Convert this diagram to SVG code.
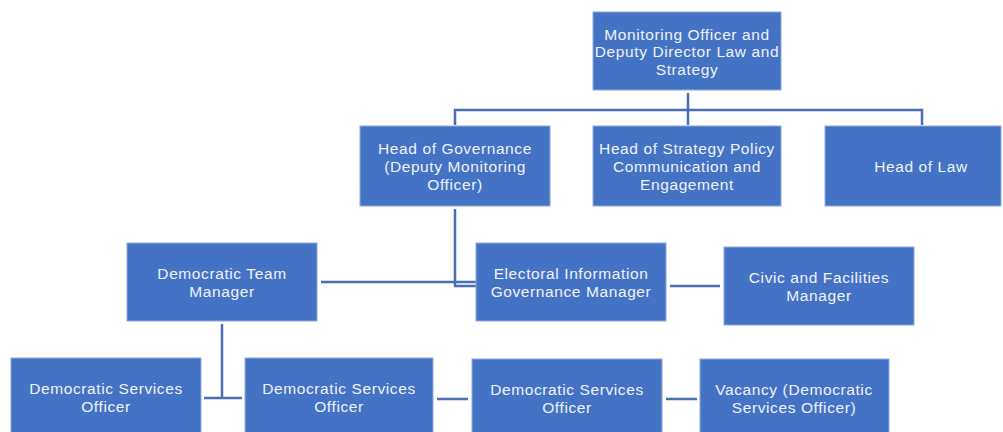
<svg xmlns="http://www.w3.org/2000/svg" width="1003" height="432" viewBox="0 0 1003 432">
  <style>
    .box { fill: #4472C4; stroke: #8FAADC; stroke-width: 1; }
    .lbl { fill: #EEF2FA; font-family: "Liberation Sans", Arial, sans-serif; font-size: 15.5px; letter-spacing: 0.6px; text-anchor: middle; dominant-baseline: central; }
    .wire { fill: none; stroke: #4A6EB3; stroke-width: 2.5; }
  </style>
  <rect width="1003" height="432" fill="#FFFFFF"/>

  <!-- connectors -->
  <g id="connectors">
    <path class="wire" d="M688 93 V125"/>
    <path class="wire" d="M455 125 V110 H922 V125"/>
    <path class="wire" d="M455 209 V286 H476"/>
    <path class="wire" d="M321 282 H476"/>
    <path class="wire" d="M670 286 H720"/>
    <path class="wire" d="M222 324 V399"/>
    <path class="wire" d="M204 398 H242"/>
    <path class="wire" d="M437 399 H468"/>
    <path class="wire" d="M666 399 H697"/>
  </g>

  <g id="monitoring-officer">
    <rect class="box" x="593" y="12" width="188" height="78"/>
    <text class="lbl" x="687" y="34">Monitoring Officer and</text>
    <text class="lbl" x="687" y="51">Deputy Director Law and</text>
    <text class="lbl" x="687" y="69">Strategy</text>
  </g>

  <g id="head-governance">
    <rect class="box" x="360" y="126" width="190" height="80"/>
    <text class="lbl" x="455" y="148">Head of Governance</text>
    <text class="lbl" x="455" y="166">(Deputy Monitoring</text>
    <text class="lbl" x="455" y="184">Officer)</text>
  </g>

  <g id="head-strategy">
    <rect class="box" x="593" y="126" width="188" height="80"/>
    <text class="lbl" x="687" y="148">Head of Strategy Policy</text>
    <text class="lbl" x="687" y="166">Communication and</text>
    <text class="lbl" x="687" y="184">Engagement</text>
  </g>

  <g id="head-law">
    <rect class="box" x="825" y="126" width="176" height="80"/>
    <text class="lbl" x="921" y="166">Head of Law</text>
  </g>

  <g id="democratic-team-manager">
    <rect class="box" x="127" y="243" width="190" height="78"/>
    <text class="lbl" x="222" y="273">Democratic Team</text>
    <text class="lbl" x="222" y="291">Manager</text>
  </g>

  <g id="electoral-manager">
    <rect class="box" x="476" y="243" width="190" height="78"/>
    <text class="lbl" x="571" y="273">Electoral Information</text>
    <text class="lbl" x="571" y="291">Governance Manager</text>
  </g>

  <g id="civic-manager">
    <rect class="box" x="724" y="247" width="190" height="78"/>
    <text class="lbl" x="819" y="277">Civic and Facilities</text>
    <text class="lbl" x="819" y="295">Manager</text>
  </g>

  <g id="dso-1">
    <rect class="box" x="11" y="358" width="190" height="80"/>
    <text class="lbl" x="106" y="388">Democratic Services</text>
    <text class="lbl" x="106" y="406">Officer</text>
  </g>

  <g id="dso-2">
    <rect class="box" x="245" y="358" width="188" height="80"/>
    <text class="lbl" x="339" y="388">Democratic Services</text>
    <text class="lbl" x="339" y="406">Officer</text>
  </g>

  <g id="dso-3">
    <rect class="box" x="472" y="359" width="190" height="80"/>
    <text class="lbl" x="567" y="389">Democratic Services</text>
    <text class="lbl" x="567" y="407">Officer</text>
  </g>

  <g id="vacancy">
    <rect class="box" x="700" y="359" width="189" height="80"/>
    <text class="lbl" x="794" y="389">Vacancy (Democratic</text>
    <text class="lbl" x="794" y="407">Services Officer)</text>
  </g>
</svg>
